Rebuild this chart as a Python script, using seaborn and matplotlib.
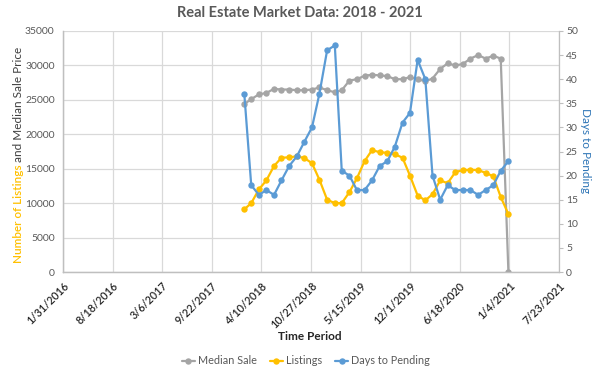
import numpy as np
import pandas as pd
import matplotlib
matplotlib.use("Agg")
import matplotlib.pyplot as plt
import matplotlib.dates as mdates
from matplotlib.lines import Line2D
import seaborn as sns

sns.set_theme(style="white")
plt.rcParams['font.family'] = ['Lato', 'DejaVu Sans']

# ---- data ----
dates = pd.date_range('2018-01-31', periods=36, freq='ME')
median_sale = [24400, 25100, 25800, 26000, 26600, 26500, 26500, 26400, 26400, 26500,
               26800, 26400, 26100, 26400, 27800, 28000, 28500, 28650, 28550, 28450,
               28000, 28000, 28300, 28000, 27700, 28100, 29500, 30300, 30000, 30200,
               31000, 31500, 31000, 31400, 31000, 0]
listings = [9100, 10000, 12000, 13300, 15400, 16600, 16650, 16800, 16550, 15800,
            13400, 10500, 10000, 10000, 11600, 13600, 16100, 17700, 17400, 17300,
            17100, 16600, 14000, 11100, 10400, 11300, 13300, 12900, 14500, 14800,
            14850, 14800, 14400, 13900, 10900, 8400]
days_to_pending = [37, 18, 16, 17, 16, 19, 22, 24, 27, 30, 37, 46, 47, 21, 20, 17, 17, 19,
                   22, 23, 26, 31, 33, 44, 40, 20, 15, 18, 17, 17, 17, 16, 17, 18, 21, 23]
x_tick_labels = ['1/31/2016', '8/18/2016', '3/6/2017', '9/22/2017', '4/10/2018', '10/27/2018',
                 '5/15/2019', '12/1/2019', '6/18/2020', '1/4/2021', '7/23/2021']
left_ticks = [0, 5000, 10000, 15000, 20000, 25000, 30000, 35000]
right_ticks = [0, 5, 10, 15, 20, 25, 30, 35, 40, 45, 50]

df = pd.DataFrame({'date': dates, 'Median Sale': median_sale,
                   'Listings': listings, 'Days to Pending': days_to_pending})

GRAY = '#A5A5A5'
YELLOW = '#FFC000'
BLUE = '#5B9BD5'
TXT = '#595959'
GRID = '#D9D9D9'

fig = plt.figure(figsize=(6, 3.78), dpi=100)
ax = fig.add_axes([63/600, 1-272/378, 496/600, 241/378])
ax2 = ax.twinx()

lw = 1.6
ms = 4.6
sns.lineplot(data=df, x='date', y='Median Sale', ax=ax, color=GRAY, lw=lw,
             marker='o', markersize=ms, markeredgewidth=0, zorder=3)
sns.lineplot(data=df, x='date', y='Listings', ax=ax, color=YELLOW, lw=lw,
             marker='o', markersize=ms, markeredgewidth=0, zorder=3)
sns.lineplot(data=df, x='date', y='Days to Pending', ax=ax2, color=BLUE, lw=lw,
             marker='o', markersize=ms, markeredgewidth=0, zorder=3)

tick_dates = pd.to_datetime(x_tick_labels, format='%m/%d/%Y')
ax.set_xlim(tick_dates[0], tick_dates[-1])
ax.set_xticks(tick_dates)
ax.set_xticklabels(x_tick_labels, rotation=45, ha='right', rotation_mode='anchor',
                   fontsize=7.8, color='#262626', fontweight='semibold')
ax.set_ylim(0, 35000)
ax.set_yticks(left_ticks)
ax.set_yticklabels([str(v) for v in left_ticks], fontsize=7.5, color=TXT)
ax2.set_ylim(0, 50)
ax2.set_yticks(right_ticks)
ax2.set_yticklabels([str(v) for v in right_ticks], fontsize=7.5, color=TXT)

ax.grid(True, color=GRID, lw=0.9)
ax.set_axisbelow(True)
ax.tick_params(axis='x', length=0, pad=6)
ax.tick_params(axis='y', length=0, pad=6)
ax2.tick_params(axis='y', length=3, width=0.8, color='#BFBFBF', pad=2, direction='out')
ax.set_xlabel('')
ax.set_ylabel('')
ax2.set_ylabel('')

for a in (ax, ax2):
    for s in ['top']:
        a.spines[s].set_visible(False)
    for s in ['left', 'bottom', 'right']:
        a.spines[s].set_color('#BFBFBF')
        a.spines[s].set_linewidth(0.9)
ax.spines['right'].set_visible(False)

# titles
fig.text(0.5, 1-13/378, 'Real Estate Market Data: 2018 - 2021', ha='center', va='center',
         fontsize=10.5, fontweight='bold', color=TXT)
fig.text(310/600, 1-336/378, 'Time Period', ha='center', va='center', fontsize=8.5,
         fontweight='bold', color='#262626')
fig.text(19/600, 1-162/378, 'and Median Sale Price', rotation=90, ha='center', va='bottom',
         fontsize=8.5, color='#404040')
fig.text(19/600, 1-164/378, 'Number of Listings', rotation=90, ha='center', va='top',
         fontsize=8.5, color=YELLOW, fontweight='semibold')
fig.text(586/600, 1-151/378, 'Days to Pending', rotation=270, ha='center', va='center',
         fontsize=8.5, color='#2E75B6')

handles = [Line2D([], [], color=c, lw=lw, marker='o', markersize=ms, markeredgewidth=0)
           for c in (GRAY, YELLOW, BLUE)]
fig.legend(handles, ['Median Sale', 'Listings', 'Days to Pending'], loc='center',
           bbox_to_anchor=(306/600, 1-361/378), ncol=3, frameon=False, fontsize=7.8,
           labelcolor=TXT, handlelength=1.2, handletextpad=0.3, columnspacing=1.2)

fig.savefig('out.png', dpi=100)
